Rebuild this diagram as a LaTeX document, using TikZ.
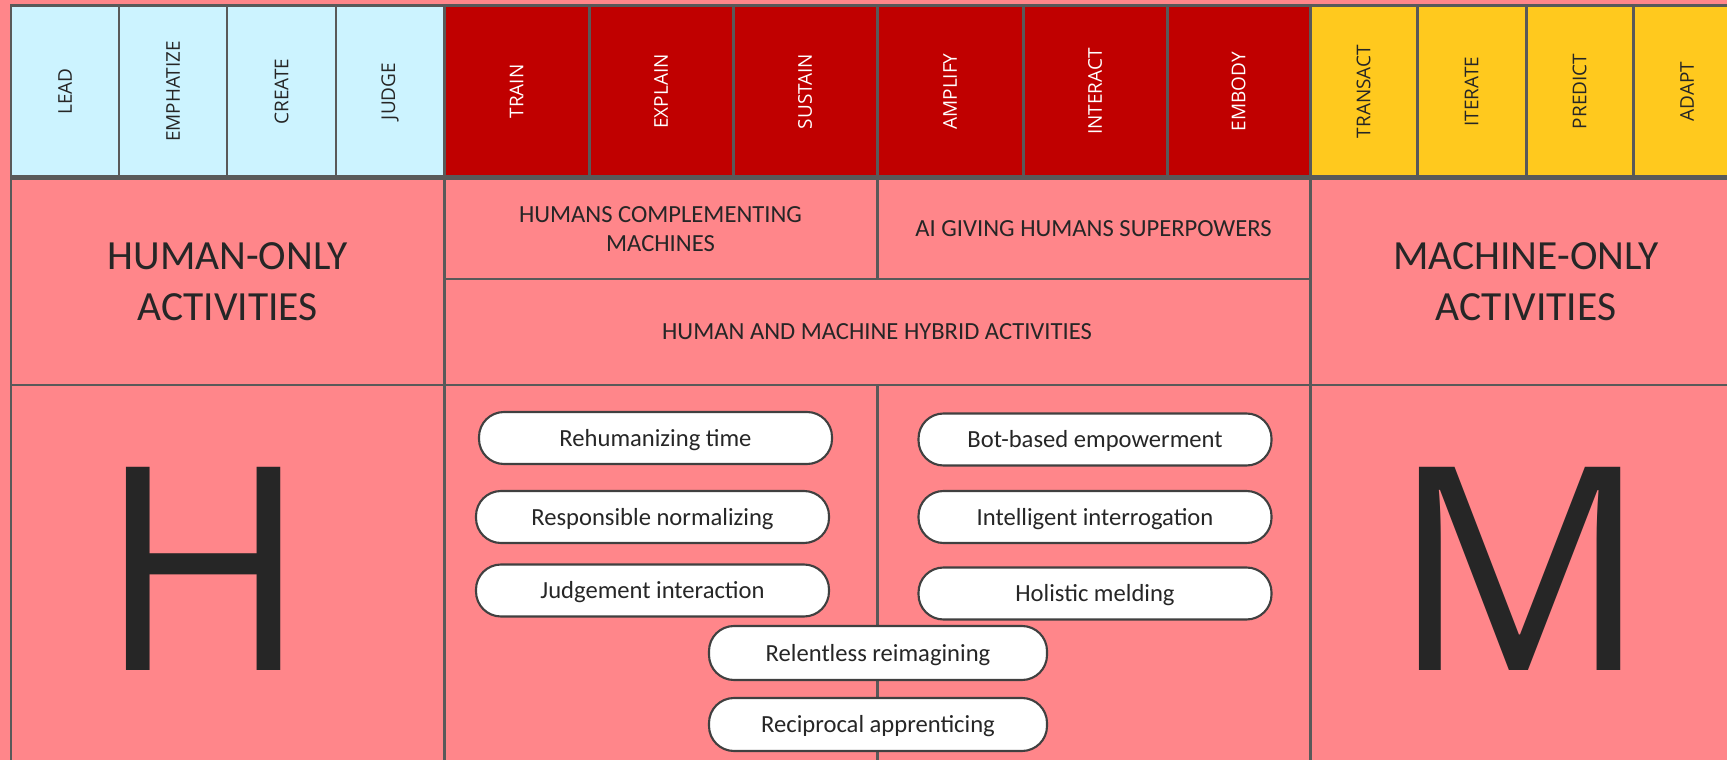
\documentclass[tikz,border=0pt]{standalone}
\usepackage{fontspec}
\setmainfont{Carlito}
\newfontfamily\headfont{Open Sans}
\definecolor{bgpink}{HTML}{FF868A}
\definecolor{lineg}{HTML}{595959}
\definecolor{pillg}{HTML}{404040}
\definecolor{darktext}{HTML}{262626}
\definecolor{hblue}{HTML}{CCF3FF}
\definecolor{hred}{HTML}{C00000}
\definecolor{hyellow}{HTML}{FFC91E}
\begin{document}
\begin{tikzpicture}
\tikzset{cell/.style = {draw=lineg, line width=0.85pt, rectangle, fill=bgpink, inner sep=0pt, align=center, text=darktext, font=\fontsize{7}{8.25}\selectfont}}
\tikzset{head/.style = {cell, rotate=90, minimum width=1.71cm, font=\headfont\fontsize{5.4}{6}\selectfont}}
\tikzset{pill/.style = {draw=pillg, line width=0.6pt, fill=white, rounded corners=0.25cm, minimum width=3.53cm, minimum height=0.52cm, inner sep=0pt, text height=0.62em, text depth=0.16em, text=darktext, font=\fontsize{7}{8}\selectfont}}
\tikzset{bigletter/.style = {inner sep=0pt, anchor=base, text=darktext, font=\headfont\fontsize{81}{81}\selectfont}}
\def\hy{-0.915}
\def\by{-5.925}
\useasboundingbox (0,0) rectangle (17.27,-7.60);
\fill[bgpink] (0,0) rectangle (17.27,-7.60);
\clip (0,0) rectangle (17.27,-7.60);
% header row
\node[head, fill=hblue, minimum height=1.08cm] (h1) at (0.65,\hy) {LEAD};
\node[head, fill=hblue, minimum height=1.08cm] (h2) at (1.73,\hy) {EMPHATIZE};
\node[head, fill=hblue, minimum height=1.09cm] (h3) at (2.815,\hy) {CREATE};
\node[head, fill=hblue, minimum height=1.08cm] (h4) at (3.90,\hy) {JUDGE};
\node[head, fill=hred, text=white, minimum height=1.45cm] (c1) at (5.165,\hy) {TRAIN};
\node[head, fill=hred, text=white, minimum height=1.44cm] (c2) at (6.61,\hy) {EXPLAIN};
\node[head, fill=hred, text=white, minimum height=1.44cm] (c3) at (8.05,\hy) {SUSTAIN};
\node[head, fill=hred, text=white, minimum height=1.46cm] (c4) at (9.50,\hy) {AMPLIFY};
\node[head, fill=hred, text=white, minimum height=1.44cm] (c5) at (10.95,\hy) {INTERACT};
\node[head, fill=hred, text=white, minimum height=1.43cm] (c6) at (12.385,\hy) {EMBODY};
\node[head, fill=hyellow, minimum height=1.07cm] (m1) at (13.635,\hy) {TRANSACT};
\node[head, fill=hyellow, minimum height=1.09cm] (m2) at (14.715,\hy) {ITERATE};
\node[head, fill=hyellow, minimum height=1.07cm] (m3) at (15.795,\hy) {PREDICT};
\node[head, fill=hyellow, minimum height=1.08cm] (m4) at (16.87,\hy) {ADAPT};
% middle row
\node[cell, minimum width=4.33cm, minimum height=2.06cm, font=\fontsize{11.8}{14.5}\selectfont] (honly) at (2.275,-2.82) {HUMAN-ONLY\\ACTIVITIES};
\node[cell, minimum width=4.33cm, minimum height=1.00cm] (compl) at (6.605,-2.29) {HUMANS COMPLEMENTING\\MACHINES};
\node[cell, minimum width=4.33cm, minimum height=1.00cm] (super) at (10.935,-2.29) {AI GIVING HUMANS SUPERPOWERS};
\node[cell, minimum width=8.66cm, minimum height=1.06cm] (hybrid) at (8.77,-3.32) {HUMAN AND MACHINE HYBRID ACTIVITIES};
\node[cell, minimum width=4.32cm, minimum height=2.06cm, font=\fontsize{11.8}{14.5}\selectfont] (monly) at (15.26,-2.82) {MACHINE-ONLY\\ACTIVITIES};
% bottom row
\node[cell, minimum width=4.33cm, minimum height=4.15cm] (hbot) at (2.275,\by) {};
\node[cell, minimum width=4.33cm, minimum height=4.15cm] (lbot) at (6.605,\by) {};
\node[cell, minimum width=4.33cm, minimum height=4.15cm] (rbot) at (10.935,\by) {};
\node[cell, minimum width=4.32cm, minimum height=4.15cm] (mbot) at (15.26,\by) {};
\node[bigletter] (bigH) at (2.035,-6.70) {H};
\node[bigletter] (bigM) at (15.20,-6.70) {M};
% pills
\node[pill] (p1) at (6.555,-4.38) {Rehumanizing time};
\node[pill] (p2) at (6.525,-5.17) {Responsible normalizing};
\node[pill] (p3) at (6.525,-5.905) {Judgement interaction};
\node[pill] (p4) at (10.95,-4.395) {Bot-based empowerment};
\node[pill] (p5) at (10.95,-5.17) {Intelligent interrogation};
\node[pill] (p6) at (10.95,-5.935) {Holistic melding};
\node[pill, minimum width=3.38cm, minimum height=0.54cm] (p7) at (8.78,-6.53) {Relentless reimagining};
\node[pill, minimum width=3.38cm, minimum height=0.53cm] (p8) at (8.78,-7.245) {Reciprocal apprenticing};
\end{tikzpicture}
\end{document}
